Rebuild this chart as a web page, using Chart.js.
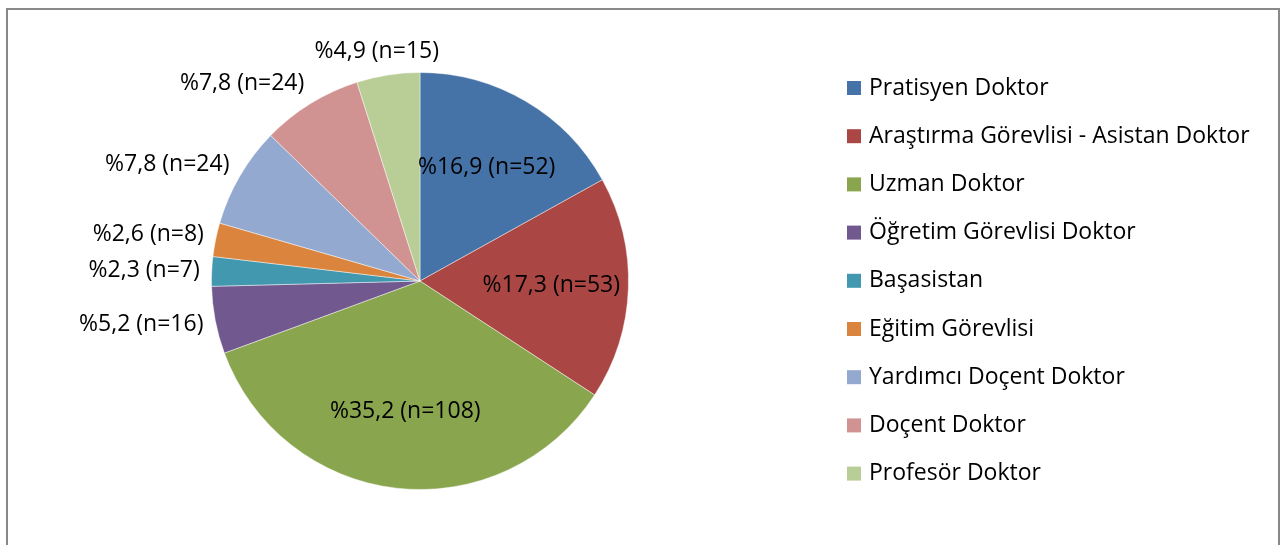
<!DOCTYPE html>
<html>
<head>
<meta charset="utf-8">
<script src="https://cdn.jsdelivr.net/npm/chart.js@4"></script>
<style>
  html, body { margin: 0; padding: 0; background: #fff; }
  #wrap { position: relative; width: 1285px; height: 545px; overflow: hidden; }
  #frame { position: absolute; left: 6px; top: 8px; width: 1274px; height: 600px; border: 2px solid #898989; box-sizing: border-box; pointer-events: none; }
  canvas { position: absolute; left: 0; top: 0; }
</style>
</head>
<body>
<div id="wrap">
  <canvas id="c" width="1285" height="545"></canvas>
  <div id="frame"></div>
</div>
<script>
const categories = [
  "Pratisyen Doktor",
  "Araştırma Görevlisi - Asistan Doktor",
  "Uzman Doktor",
  "Öğretim Görevlisi Doktor",
  "Başasistan",
  "Eğitim Görevlisi",
  "Yardımcı Doçent Doktor",
  "Doçent Doktor",
  "Profesör Doktor"
];
const counts = [52, 53, 108, 16, 7, 8, 24, 24, 15];
const percentLabels = ["16,9", "17,3", "35,2", "5,2", "2,3", "2,6", "7,8", "7,8", "4,9"];
const colors = ["#4572A7", "#AA4643", "#89A54E", "#71588F", "#4198AF", "#DB843D", "#93A9CF", "#D19392", "#B9CD96"];

const FONT = "'Open Sans', sans-serif";

const labelPlugin = {
  id: 'sliceLabels',
  afterDatasetsDraw(chart) {
    const ctx = chart.ctx;
    const meta = chart.getDatasetMeta(0);
    const total = counts.reduce((a, b) => a + b, 0);
    ctx.save();
    ctx.font = "23px " + FONT;
    ctx.fillStyle = "#000";
    ctx.textBaseline = "middle";
    meta.data.forEach((arc, i) => {
      const p = arc.getProps(['x', 'y', 'startAngle', 'endAngle', 'outerRadius'], true);
      const mid = (p.startAngle + p.endAngle) / 2;
      const dx = Math.cos(mid), dy = Math.sin(mid);
      const text = "%" + percentLabels[i] + " (n=" + counts[i] + ")";
      const w = ctx.measureText(text).width;
      const h = 24;
      if (counts[i] / total > 0.1) {
        const r = p.outerRadius * 0.63;
        ctx.textAlign = "center";
        ctx.fillText(text, p.x + dx * r, p.y + dy * r);
      } else {
        const r = p.outerRadius + 12;
        const ax = p.x + dx * r, ay = p.y + dy * r;
        let cx;
        if (Math.abs(dx) < 0.3) cx = ax + dx * w / 2;
        else if (dx < 0) cx = ax - w / 2;
        else cx = ax + w / 2;
        const cy = ay + dy * h / 2;
        ctx.textAlign = "center";
        ctx.fillText(text, cx, cy);
      }
    });
    ctx.restore();
  }
};

const legendPlugin = {
  id: 'sideLegend',
  afterDraw(chart) {
    const ctx = chart.ctx;
    const meta = chart.getDatasetMeta(0);
    const boxX = 847, textX = 869, top = 88, step = 48.2, box = 14;
    ctx.save();
    ctx.font = "23px " + FONT;
    ctx.textBaseline = "middle";
    ctx.textAlign = "left";
    categories.forEach((name, i) => {
      const y = top + i * step;
      ctx.fillStyle = meta.data[i].options.backgroundColor;
      ctx.fillRect(boxX, y - box / 2, box, box);
      ctx.fillStyle = "#000";
      ctx.fillText(name, textX, y);
    });
    ctx.restore();
  }
};

new Chart(document.getElementById('c'), {
  type: 'pie',
  data: {
    labels: categories,
    datasets: [{
      data: counts,
      backgroundColor: colors,
      borderColor: 'rgba(255,255,255,0.45)',
      borderWidth: 1
    }]
  },
  options: {
    responsive: false,
    animation: false,
    layout: { padding: { top: 72, bottom: 55, left: 211, right: 656 } },
    plugins: {
      tooltip: { enabled: false },
      legend: { display: false }
    }
  },
  plugins: [labelPlugin, legendPlugin]
});
</script>
</body>
</html>
